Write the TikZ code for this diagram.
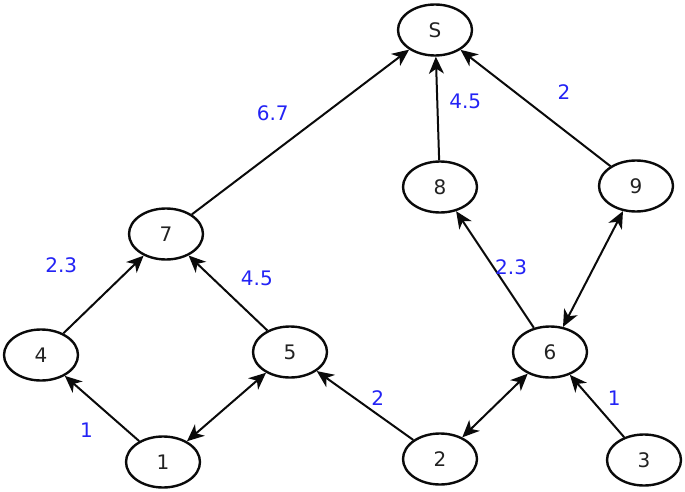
\documentclass[tikz,border=0pt]{standalone}
\usepackage{fontspec}
\setmainfont{DejaVu Sans}
\usepackage{xcolor}
\usetikzlibrary{arrows.meta}
\usetikzlibrary{shapes.geometric}
\definecolor{wblue}{RGB}{35,35,245}
\definecolor{ink}{RGB}{10,10,10}

\begin{document}
\begin{tikzpicture}[x=1pt,y=-1pt,
  state/.style={ellipse, draw=ink, line width=2.4pt, minimum width=74pt, minimum height=51pt, inner sep=0pt, text=ink!90, font=\fontsize{20}{24}\selectfont},
  edge/.style={draw=ink, line width=2pt, -{Stealth[length=17pt,width=15pt,inset=5pt]}},
  both/.style={draw=ink, line width=2pt, {Stealth[length=17pt,width=15pt,inset=5pt]}-{Stealth[length=17pt,width=15pt,inset=5pt]}},
  wt/.style={text=wblue, font=\fontsize{20}{24}\selectfont, inner sep=0pt}]
\useasboundingbox (0,0) rectangle (685,492);

% nodes
\node[state] (S) at (435,30) {S};
\node[state] (n8) at (440,187) {8};
\node[state] (n9) at (636,186) {9};
\node[state] (n7) at (166,234) {7};
\node[state] (n4) at (41,355) {4};
\node[state] (n5) at (290,352) {5};
\node[state] (n6) at (550,352) {6};
\node[state] (n1) at (163,462) {1};
\node[state] (n2) at (440,459) {2};
\node[state] (n3) at (644,460) {3};

% weighted edges
\draw[edge] (n7) -- (S) node[wt, pos=0.46, shift={(-19,-25)}] {6.7};
\draw[edge] (n8) -- (S) node[wt, pos=0.57, shift={(28,0)}] {4.5};
\draw[edge] (n9) -- (S) node[wt, pos=0.43, shift={(18,-24)}] {2};
\draw[edge] (n4) -- (n7) node[wt, pos=0.41, shift={(-35,-36)}] {2.3};
\draw[edge] (n5) -- (n7) node[wt, pos=0.40, shift={(21,-22)}] {4.5};
\draw[edge] (n1) -- (n4) node[wt, pos=0.48, shift={(-17,20)}] {1};
\draw[edge] (n2) -- (n5) node[wt, pos=0.45, shift={(8,-11)}] {2};
\draw[edge] (n6) -- (n8) node[wt, pos=0.46, shift={(13,-7)}] {2.3};
\draw[edge] (n3) -- (n6) node[wt, pos=0.44, shift={(14,-12)}] {1};

% two-way edges
\draw[both] (n1) -- (n5);
\draw[both] (n2) -- (n6);
\draw[both] (n6) -- (n9);

\end{tikzpicture}
\end{document}
